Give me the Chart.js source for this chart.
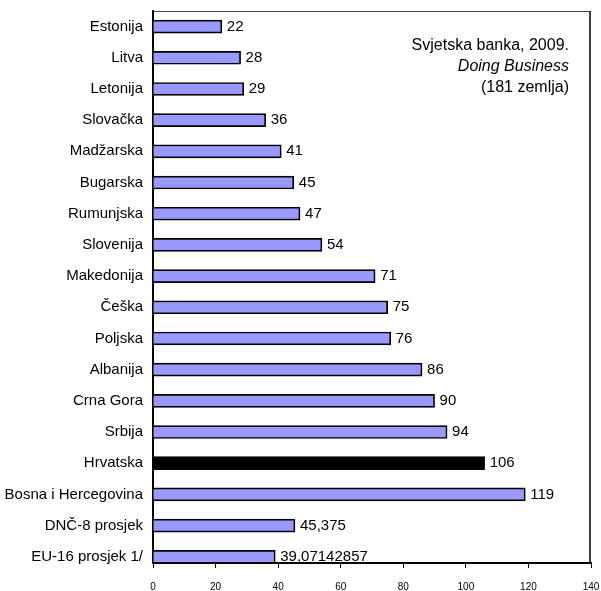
<!DOCTYPE html>
<html><head><meta charset="utf-8">
<script src="https://cdn.jsdelivr.net/npm/chart.js@4/dist/chart.umd.min.js"></script>
<style>html,body{margin:0;padding:0;background:#fff;overflow:hidden}</style>
</head><body>
<canvas id="c" width="601" height="591"></canvas>
<script>
const categories = ['Estonija','Litva','Letonija','Slovačka','Madžarska','Bugarska','Rumunjska','Slovenija','Makedonija','Češka','Poljska','Albanija','Crna Gora','Srbija','Hrvatska','Bosna i Hercegovina','DNČ-8 prosjek','EU-16 prosjek 1/'];
const values = [22,28,29,36,41,45,47,54,71,75,76,86,90,94,106,119,45.375,39.07142857];
const xTicks = [0,20,40,60,80,100,120,140];
const highlight = 'Hrvatska';
const noteLines = ['Svjetska banka, 2009.','Doing Business','(181 zemlja)'];

const FONT = "'Liberation Sans', Arial, sans-serif";

const valueLabels = {
  id: 'valueLabels',
  afterDatasetsDraw(chart) {
    const ctx = chart.ctx;
    const meta = chart.getDatasetMeta(0);
    ctx.save();
    ctx.font = '15px ' + FONT;
    ctx.fillStyle = '#000';
    ctx.textAlign = 'left';
    ctx.textBaseline = 'middle';
    meta.data.forEach((bar, i) => {
      ctx.fillText(String(values[i]).replace('.', ','), bar.x + 5, bar.y);
    });
    ctx.restore();
  }
};

const frameAndNote = {
  id: 'frameAndNote',
  afterDraw(chart) {
    const ctx = chart.ctx;
    const a = chart.chartArea;
    ctx.save();
    ctx.strokeStyle = '#444';
    ctx.lineWidth = 1.2;
    ctx.beginPath();
    ctx.moveTo(a.left, a.top + 0.5);
    ctx.lineTo(a.right, a.top + 0.5);
    ctx.stroke();
    ctx.strokeStyle = '#111';
    ctx.lineWidth = 1.6;
    ctx.beginPath();
    ctx.moveTo(a.right - 1, a.top);
    ctx.lineTo(a.right - 1, a.bottom);
    ctx.stroke();
    ctx.fillStyle = '#000';
    ctx.textAlign = 'right';
    ctx.textBaseline = 'middle';
    const rx = a.right - 22;
    noteLines.forEach((t, i) => {
      ctx.font = (i === 1 ? 'italic ' : '') + '16px ' + FONT;
      ctx.fillText(t, rx, a.top + 35 + i * 21);
    });
    ctx.restore();
  }
};

new Chart(document.getElementById('c'), {
  type: 'bar',
  data: {
    datasets: [{
      data: values.map((v, i) => ({ x: v, y: i })),
      backgroundColor: categories.map(c => c === highlight ? '#000000' : '#9999ff'),
      borderColor: '#000',
      borderWidth: 1.7,
      barThickness: 13
    }]
  },
  options: {
    indexAxis: 'y',
    responsive: false,
    animation: false,
    layout: { padding: { top: 11, right: 10, left: 0, bottom: 0 } },
    plugins: { legend: { display: false }, tooltip: { enabled: false } },
    scales: {
      x: {
        type: 'linear',
        min: 0, max: 140,
        afterBuildTicks(scale) { scale.ticks = xTicks.map(v => ({ value: v })); },
        afterFit(scale) { scale.height = 28; scale.paddingLeft = 0; scale.paddingRight = 0; },
        grid: { drawOnChartArea: false, drawTicks: true, tickLength: 5, color: '#000', lineWidth: 1 },
        border: { display: true, color: '#000', width: 2 },
        ticks: { font: { family: FONT, size: 10 }, color: '#000', padding: 13, maxRotation: 0 }
      },
      y: {
        type: 'linear',
        reverse: true,
        offset: false,
        min: -0.5, max: 17.2,
        afterBuildTicks(scale) { scale.ticks = categories.map((_, i) => ({ value: i })); },
        afterFit(scale) { scale.width = 153; scale.paddingTop = 0; scale.paddingBottom = 0; },
        grid: { display: false, drawTicks: false, offset: false },
        border: { display: true, color: '#000', width: 2 },
        ticks: {
          font: { family: FONT, size: 15 }, color: '#000', padding: 10, autoSkip: false,
          callback: (v) => categories[v]
        }
      }
    }
  },
  plugins: [valueLabels, frameAndNote]
});
</script>
</body></html>
